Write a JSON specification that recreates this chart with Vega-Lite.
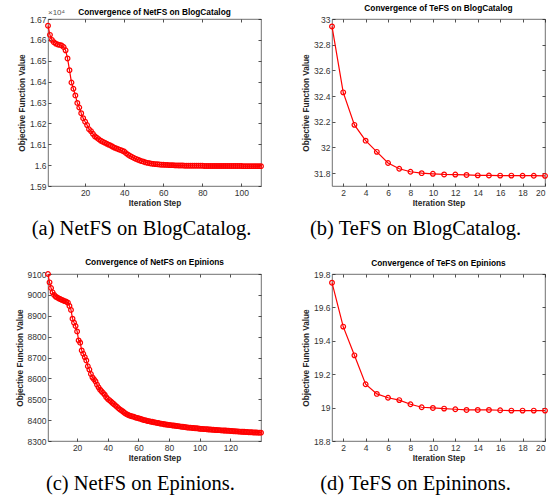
{
  "$schema": "https://vega.github.io/schema/vega-lite/v6.json",
  "background": "white",
  "padding": {"left": 14, "top": 3, "right": 5, "bottom": 5},
  "config": {
    "font": "Liberation Sans",
    "view": {"stroke": "#4d4d4d", "strokeWidth": 0.8},
    "axis": {"grid": false, "domain": false, "tickColor": "#262626", "tickSize": -3, "tickWidth": 0.8,
             "labelFontSize": 8.5, "labelColor": "#333333", "labelFont": "Liberation Sans", "labelPadding": 5,
             "titleFontSize": 8.2, "titleFontWeight": "bold", "titleColor": "#262626", "titleFont": "Liberation Sans", "titlePadding": 3},
    "title": {"fontSize": 8.3, "fontWeight": "bold", "color": "#000000", "font": "Liberation Sans", "offset": 3},
    "line": {"color": "#ff0000", "strokeWidth": 1.2},
    "point": {"color": "#ff0000", "filled": false, "size": 22, "strokeWidth": 1.2, "opacity": 1}
  },
  "datasets": {
    "a": [
      {"step":1,"value":16668},{"step":2,"value":16624},{"step":3,"value":16600},{"step":4,"value":16589},{"step":5,"value":16582},
      {"step":6,"value":16578},{"step":7,"value":16576},{"step":8,"value":16573},{"step":9,"value":16566},{"step":10,"value":16550},
      {"step":11,"value":16511},{"step":12,"value":16455},{"step":13,"value":16396},{"step":14,"value":16366},{"step":15,"value":16334},
      {"step":16,"value":16298},{"step":17,"value":16276},{"step":18,"value":16249},{"step":19,"value":16225},{"step":20,"value":16208},
      {"step":21,"value":16192},{"step":22,"value":16172},{"step":23,"value":16163},{"step":24,"value":16150},{"step":25,"value":16138},
      {"step":26,"value":16131},{"step":27,"value":16124},{"step":28,"value":16117},{"step":29,"value":16112},{"step":30,"value":16108},
      {"step":31,"value":16103},{"step":32,"value":16098},{"step":33,"value":16094},{"step":34,"value":16089},{"step":35,"value":16084},
      {"step":36,"value":16080},{"step":37,"value":16076},{"step":38,"value":16073},{"step":39,"value":16069},{"step":40,"value":16065},
      {"step":41,"value":16057},{"step":42,"value":16050},{"step":43,"value":16044},{"step":44,"value":16039},{"step":45,"value":16034},
      {"step":46,"value":16030},{"step":47,"value":16026},{"step":48,"value":16022},{"step":49,"value":16019},{"step":50,"value":16016},
      {"step":51,"value":16013},{"step":52,"value":16011},{"step":53,"value":16009},{"step":54,"value":16007},{"step":55,"value":16006},
      {"step":56,"value":16005},{"step":57,"value":16004},{"step":58,"value":16003},{"step":59,"value":16002},{"step":60,"value":16002},
      {"step":61,"value":16001},{"step":62,"value":16001},{"step":63,"value":16000},{"step":64,"value":16000},{"step":65,"value":16000},
      {"step":66,"value":15999},{"step":67,"value":15999},{"step":68,"value":15998},{"step":69,"value":15998},{"step":70,"value":15998},
      {"step":71,"value":15997},{"step":72,"value":15997},{"step":73,"value":15997},{"step":74,"value":15997},{"step":75,"value":15997},
      {"step":76,"value":15997},{"step":77,"value":15997},{"step":78,"value":15997},{"step":79,"value":15997},{"step":80,"value":15997},
      {"step":81,"value":15996},{"step":82,"value":15996},{"step":83,"value":15996},{"step":84,"value":15996},{"step":85,"value":15996},
      {"step":86,"value":15996},{"step":87,"value":15996},{"step":88,"value":15996},{"step":89,"value":15996},{"step":90,"value":15996},
      {"step":91,"value":15996},{"step":92,"value":15996},{"step":93,"value":15996},{"step":94,"value":15996},{"step":95,"value":15996},
      {"step":96,"value":15996},{"step":97,"value":15996},{"step":98,"value":15996},{"step":99,"value":15996},{"step":100,"value":15996},
      {"step":101,"value":15995},{"step":102,"value":15995},{"step":103,"value":15995},{"step":104,"value":15995},{"step":105,"value":15995},
      {"step":106,"value":15995},{"step":107,"value":15995},{"step":108,"value":15995},{"step":109,"value":15995},{"step":110,"value":15995}
    ],
    "b": [
      {"step":1,"value":32.942},{"step":2,"value":32.429},{"step":3,"value":32.176},{"step":4,"value":32.053},{"step":5,"value":31.966},
      {"step":6,"value":31.879},{"step":7,"value":31.834},{"step":8,"value":31.811},{"step":9,"value":31.800},{"step":10,"value":31.795},
      {"step":11,"value":31.790},{"step":12,"value":31.789},{"step":13,"value":31.786},{"step":14,"value":31.783},{"step":15,"value":31.782},
      {"step":16,"value":31.781},{"step":17,"value":31.781},{"step":18,"value":31.780},{"step":19,"value":31.780},{"step":20,"value":31.779}
    ],
    "c": [
      {"step":1,"value":9100},{"step":2,"value":9060},{"step":3,"value":9033},{"step":4,"value":9012},{"step":5,"value":9000},
      {"step":6,"value":8992},{"step":7,"value":8988},{"step":8,"value":8983},{"step":9,"value":8980},{"step":10,"value":8976},
      {"step":11,"value":8973},{"step":12,"value":8970},{"step":13,"value":8967},{"step":14,"value":8963},{"step":15,"value":8947},
      {"step":16,"value":8928},{"step":17,"value":8886},{"step":18,"value":8867},{"step":19,"value":8851},{"step":20,"value":8825},
      {"step":21,"value":8782},{"step":22,"value":8771},{"step":23,"value":8734},{"step":24,"value":8718},{"step":25,"value":8702},
      {"step":26,"value":8686},{"step":27,"value":8658},{"step":28,"value":8642},{"step":29,"value":8621},{"step":30,"value":8605},
      {"step":31,"value":8596},{"step":32,"value":8586},{"step":33,"value":8570},{"step":34,"value":8557},{"step":35,"value":8546},
      {"step":36,"value":8538},{"step":37,"value":8530},{"step":38,"value":8522},{"step":39,"value":8510},{"step":40,"value":8502},
      {"step":41,"value":8496},{"step":42,"value":8490},{"step":43,"value":8483},{"step":44,"value":8477},{"step":45,"value":8470},
      {"step":46,"value":8464},{"step":47,"value":8457},{"step":48,"value":8451},{"step":49,"value":8446},{"step":50,"value":8441},
      {"step":51,"value":8435},{"step":52,"value":8430},{"step":53,"value":8426},{"step":54,"value":8423},{"step":55,"value":8420},
      {"step":56,"value":8418},{"step":57,"value":8416},{"step":58,"value":8413},{"step":59,"value":8411},{"step":60,"value":8409},
      {"step":61,"value":8407},{"step":62,"value":8404},{"step":63,"value":8402},{"step":64,"value":8400},{"step":65,"value":8398},
      {"step":66,"value":8396},{"step":67,"value":8395},{"step":68,"value":8393},{"step":69,"value":8392},{"step":70,"value":8390},
      {"step":71,"value":8389},{"step":72,"value":8387},{"step":73,"value":8386},{"step":74,"value":8384},{"step":75,"value":8383},
      {"step":76,"value":8382},{"step":77,"value":8380},{"step":78,"value":8379},{"step":79,"value":8378},{"step":80,"value":8377},
      {"step":81,"value":8376},{"step":82,"value":8375},{"step":83,"value":8374},{"step":84,"value":8373},{"step":85,"value":8372},
      {"step":86,"value":8371},{"step":87,"value":8370},{"step":88,"value":8369},{"step":89,"value":8368},{"step":90,"value":8367},
      {"step":91,"value":8366},{"step":92,"value":8365},{"step":93,"value":8364},{"step":94,"value":8364},{"step":95,"value":8363},
      {"step":96,"value":8362},{"step":97,"value":8361},{"step":98,"value":8361},{"step":99,"value":8360},{"step":100,"value":8359},
      {"step":101,"value":8358},{"step":102,"value":8358},{"step":103,"value":8357},{"step":104,"value":8357},{"step":105,"value":8356},
      {"step":106,"value":8355},{"step":107,"value":8355},{"step":108,"value":8354},{"step":109,"value":8354},{"step":110,"value":8353},
      {"step":111,"value":8353},{"step":112,"value":8352},{"step":113,"value":8352},{"step":114,"value":8351},{"step":115,"value":8351},
      {"step":116,"value":8350},{"step":117,"value":8350},{"step":118,"value":8349},{"step":119,"value":8349},{"step":120,"value":8348},
      {"step":121,"value":8348},{"step":122,"value":8347},{"step":123,"value":8347},{"step":124,"value":8346},{"step":125,"value":8346},
      {"step":126,"value":8345},{"step":127,"value":8345},{"step":128,"value":8344},{"step":129,"value":8344},{"step":130,"value":8343},
      {"step":131,"value":8343},{"step":132,"value":8342},{"step":133,"value":8342},{"step":134,"value":8342},{"step":135,"value":8341},
      {"step":136,"value":8341},{"step":137,"value":8341},{"step":138,"value":8340},{"step":139,"value":8340},{"step":140,"value":8340}
    ],
    "d": [
      {"step":1,"value":19.748},{"step":2,"value":19.485},{"step":3,"value":19.313},{"step":4,"value":19.140},{"step":5,"value":19.082},
      {"step":6,"value":19.059},{"step":7,"value":19.045},{"step":8,"value":19.020},{"step":9,"value":19.002},{"step":10,"value":18.998},
      {"step":11,"value":18.994},{"step":12,"value":18.990},{"step":13,"value":18.986},{"step":14,"value":18.986},{"step":15,"value":18.986},
      {"step":16,"value":18.984},{"step":17,"value":18.982},{"step":18,"value":18.982},{"step":19,"value":18.982},{"step":20,"value":18.982}
    ]
  },
  "columns": 2,
  "spacing": {"column": 34, "row": 17},
  "concat": [
    {
      "title": {"text": "(a) NetFS on BlogCatalog.", "orient": "bottom", "font": "Liberation Serif", "fontSize": 20.5, "fontWeight": "normal", "color": "#000000", "offset": 12, "anchor": "middle"},
      "vconcat": [{
        "width": 213, "height": 167,
        "title": {"text": "Convergence of NetFS on BlogCatalog", "offset": -7},
        "data": {"name": "a"},
        "resolve": {"axis": {"x": "independent", "y": "independent"}},
        "layer": [
          {"mark": "line", "encoding": {
            "x": {"field": "step", "type": "quantitative", "scale": {"domain": [1, 110], "nice": false, "zero": false}, "axis": {"values": [20, 40, 60, 80, 100], "title": "Iteration Step"}},
            "y": {"field": "value", "type": "quantitative", "scale": {"domain": [15900, 16700], "nice": false, "zero": false}, "axis": {"values": [15900, 16000, 16100, 16200, 16300, 16400, 16500, 16600, 16700], "labelExpr": "format(datum.value/10000, '~g')", "title": "Objective Function Value"}}
          }},
          {"mark": "point", "encoding": {
            "x": {"field": "step", "type": "quantitative", "axis": {"orient": "top", "labels": false, "title": null, "values": [20, 40, 60, 80, 100]}},
            "y": {"field": "value", "type": "quantitative", "axis": {"orient": "right", "labels": false, "title": null, "values": [15900, 16000, 16100, 16200, 16300, 16400, 16500, 16600, 16700]}}
          }},
          {"data": {"values": [{"label": "×10⁴"}]},
           "mark": {"type": "text", "align": "left", "baseline": "bottom", "dy": -2, "fontSize": 8, "color": "#555555"},
           "encoding": {"x": {"datum": 1, "type": "quantitative", "axis": null}, "y": {"datum": 16700, "type": "quantitative", "axis": null}, "text": {"field": "label"}}}
        ]
      }]
    },
    {
      "title": {"text": "(b) TeFS on BlogCatalog.", "orient": "bottom", "font": "Liberation Serif", "fontSize": 20.5, "fontWeight": "normal", "color": "#000000", "offset": 12, "anchor": "middle", "dx": -10},
      "vconcat": [{
        "width": 213, "height": 167,
        "title": "Convergence of TeFS on BlogCatalog",
        "data": {"name": "b"},
        "resolve": {"axis": {"x": "independent", "y": "independent"}},
        "layer": [
          {"mark": "line", "encoding": {
            "x": {"field": "step", "type": "quantitative", "scale": {"domain": [1, 20], "nice": false, "zero": false}, "axis": {"values": [2, 4, 6, 8, 10, 12, 14, 16, 18, 20], "title": "Iteration Step"}},
            "y": {"field": "value", "type": "quantitative", "scale": {"domain": [31.7, 33], "nice": false, "zero": false}, "axis": {"values": [31.8, 32, 32.2, 32.4, 32.6, 32.8, 33], "labelExpr": "format(datum.value, '~g')", "title": "Objective Function Value"}}
          }},
          {"mark": "point", "encoding": {
            "x": {"field": "step", "type": "quantitative", "axis": {"orient": "top", "labels": false, "title": null, "values": [2, 4, 6, 8, 10, 12, 14, 16, 18, 20]}},
            "y": {"field": "value", "type": "quantitative", "axis": {"orient": "right", "labels": false, "title": null, "values": [31.8, 32, 32.2, 32.4, 32.6, 32.8, 33]}}
          }}
        ]
      }]
    },
    {
      "title": {"text": "(c) NetFS on Epinions.", "orient": "bottom", "font": "Liberation Serif", "fontSize": 20.5, "fontWeight": "normal", "color": "#000000", "offset": 12, "anchor": "middle"},
      "vconcat": [{
        "width": 213, "height": 167,
        "title": "Convergence of NetFS on Epinions",
        "data": {"name": "c"},
        "resolve": {"axis": {"x": "independent", "y": "independent"}},
        "layer": [
          {"mark": "line", "encoding": {
            "x": {"field": "step", "type": "quantitative", "scale": {"domain": [1, 140], "nice": false, "zero": false}, "axis": {"values": [20, 40, 60, 80, 100, 120], "title": "Iteration Step"}},
            "y": {"field": "value", "type": "quantitative", "scale": {"domain": [8300, 9100], "nice": false, "zero": false}, "axis": {"values": [8300, 8400, 8500, 8600, 8700, 8800, 8900, 9000, 9100], "format": "d", "title": "Objective Function Value"}}
          }},
          {"mark": "point", "encoding": {
            "x": {"field": "step", "type": "quantitative", "axis": {"orient": "top", "labels": false, "title": null, "values": [20, 40, 60, 80, 100, 120]}},
            "y": {"field": "value", "type": "quantitative", "axis": {"orient": "right", "labels": false, "title": null, "values": [8300, 8400, 8500, 8600, 8700, 8800, 8900, 9000, 9100]}}
          }}
        ]
      }]
    },
    {
      "title": {"text": "(d) TeFS on Epininons.", "orient": "bottom", "font": "Liberation Serif", "fontSize": 20.5, "fontWeight": "normal", "color": "#000000", "offset": 12, "anchor": "middle", "dx": -10},
      "vconcat": [{
        "width": 213, "height": 167,
        "title": "Convergence of TeFS on Epinions",
        "data": {"name": "d"},
        "resolve": {"axis": {"x": "independent", "y": "independent"}},
        "layer": [
          {"mark": "line", "encoding": {
            "x": {"field": "step", "type": "quantitative", "scale": {"domain": [1, 20], "nice": false, "zero": false}, "axis": {"values": [2, 4, 6, 8, 10, 12, 14, 16, 18, 20], "title": "Iteration Step"}},
            "y": {"field": "value", "type": "quantitative", "scale": {"domain": [18.8, 19.8], "nice": false, "zero": false}, "axis": {"values": [18.8, 19, 19.2, 19.4, 19.6, 19.8], "labelExpr": "format(datum.value, '~g')", "title": "Objective Function Value"}}
          }},
          {"mark": "point", "encoding": {
            "x": {"field": "step", "type": "quantitative", "axis": {"orient": "top", "labels": false, "title": null, "values": [2, 4, 6, 8, 10, 12, 14, 16, 18, 20]}},
            "y": {"field": "value", "type": "quantitative", "axis": {"orient": "right", "labels": false, "title": null, "values": [18.8, 19, 19.2, 19.4, 19.6, 19.8]}}
          }}
        ]
      }]
    }
  ]
}
